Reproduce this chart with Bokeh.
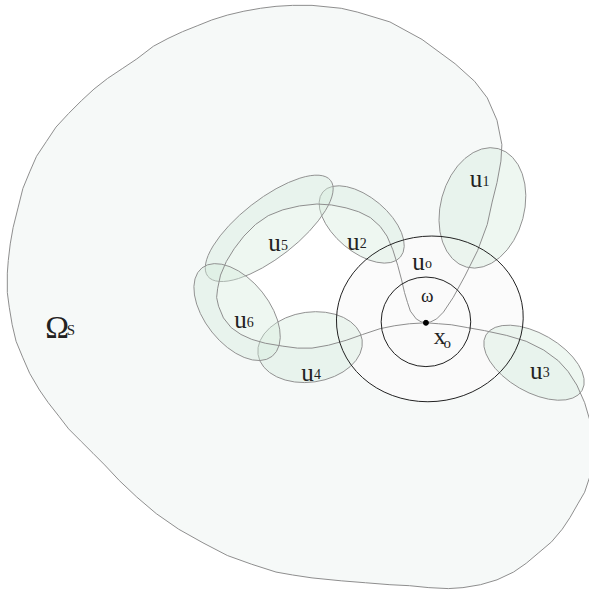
from bokeh.plotting import figure
from bokeh.models import Range1d
from bokeh.core.properties import value
from bokeh.embed import file_html
from bokeh.resources import INLINE
import math

# ---- data (pixel coordinates, y downwards) ----
# outer boundary of Omega_s: top -> right side -> down through u1 -> x0
outer1_x = [320, 350, 367, 400, 433, 467, 487, 500, 510, 515, 514, 510, 505, 500, 490, 477, 465, 455, 448, 442, 437]
outer1_y = [5, 8, 12, 22, 40, 65, 83, 100, 123, 148, 165, 187, 207, 230, 257, 283, 305, 320, 327, 330, 331]
# x0 -> right through u3 -> off the right edge -> bottom -> left -> top
outer2_x = [437, 450, 463, 480, 497, 520, 540, 558, 573, 583, 592, 600, 605, 608, 608, 605, 600, 593, 585, 577,
            566, 553, 540, 527, 510, 493, 475, 460, 440, 420, 400, 375, 350, 320, 300, 283, 258, 233, 208, 183,
            160, 140, 122, 107, 95, 83, 70, 60, 49, 40, 30, 23, 16, 12, 9, 7, 7, 8, 10, 13, 18, 23, 30, 37, 47,
            57, 70, 83, 96, 110, 125, 140, 157, 172, 187, 202, 217, 233, 250, 267, 283, 300, 320]
outer2_y = [331, 332, 333, 336, 339, 344, 350, 359, 370, 381, 395, 413, 430, 447, 470, 490, 505, 517, 531, 543,
            556, 567, 578, 587, 595, 600, 603, 604, 603, 601, 600, 598, 596, 593, 590, 587, 579, 570, 557, 543,
            527, 510, 493, 477, 465, 453, 440, 427, 413, 400, 383, 367, 350, 333, 315, 300, 280, 267, 250, 233,
            213, 193, 176, 160, 145, 130, 116, 103, 91, 80, 70, 60, 47, 39, 32, 26, 20, 15, 11, 8, 6, 5, 5]
# hole: x0 -> up through u2 -> u5 -> u6 -> u4 -> back to x0
hole_x = [437, 432, 427, 421, 418, 415, 412, 408, 403, 397, 390, 380, 368, 355, 340, 325, 307, 290, 275, 262,
          250, 240, 232, 226, 223, 222, 224, 229, 237, 247, 258, 272, 290, 305, 320, 337, 355, 372, 390, 405,
          420, 437]
hole_y = [331, 330, 327, 319, 310, 300, 287, 272, 256, 242, 232, 223, 217, 213, 210, 209, 211, 215, 221, 230,
          242, 255, 268, 282, 296, 305, 314, 326, 336, 343, 348, 352, 355, 357, 357, 354, 349, 343, 337, 334,
          332, 331]

# covering sets u1..u6: centre, major, minor, tilt (deg, counter-clockwise on screen)
u_cx = [495, 371, 548, 318, 276, 243]
u_cy = [213, 230, 372, 356, 234, 320]
u_w = [126, 104, 114, 108, 160, 116]
u_h = [86, 56, 60, 72, 60, 66]
u_ang = [75, -40, -30, 8, 38, -51.5]

# u0 and omega around x0
c_cx = [441, 437]
c_cy = [327, 330]
c_w = [192, 92]
c_h = [170, 92]
c_ang = [5, 0]

x0_pt = (437, 331)

# labels
u_names = ["1", "2", "3", "4", "5", "6", "o"]
u_lx = [482, 356, 544, 309, 275, 240, 423]
u_ly = [183, 247, 380, 382, 249, 328, 268]

# ---- figure ----
p = figure(width=589, height=592, output_backend="svg", toolbar_location=None,
           x_range=Range1d(0, 605), y_range=Range1d(608, 0), min_border=0)
p.axis.visible = False
p.grid.visible = False
p.outline_line_color = None
p.background_fill_color = "white"
p.border_fill_color = "white"

# Omega_s fill with hole
p.multi_polygons(xs=[[[outer1_x[:-1] + outer2_x, hole_x]]], ys=[[[outer1_y[:-1] + outer2_y, hole_y]]],
                 fill_color="#f6f9f8", line_color=None)

# light fill of u0
p.ellipse(x=[c_cx[0]], y=[c_cy[0]], width=[c_w[0]], height=[c_h[0]], angle=[math.radians(c_ang[0])],
          fill_color="#fafafa", fill_alpha=0.85, line_color=None)

# u1..u6
p.ellipse(x=u_cx, y=u_cy, width=u_w, height=u_h, angle=[math.radians(a) for a in u_ang],
          fill_color="#d5eadc", fill_alpha=0.4, line_color="#929292", line_width=1)

# boundary line
bx = outer1_x + hole_x[1:] + outer2_x[1:]
by = outer1_y + hole_y[1:] + outer2_y[1:]
p.line(bx, by, line_color="#8e8e8e", line_width=1)

# u0 and omega outlines
p.ellipse(x=c_cx, y=c_cy, width=c_w, height=c_h, angle=[math.radians(a) for a in c_ang],
          fill_color=None, line_color="#222222", line_width=1)

p.scatter([x0_pt[0]], [x0_pt[1]], size=5, color="black")

serif = value("Liberation Serif")
p.text(x=u_lx, y=u_ly, text=["u"] * len(u_lx), text_font=serif, text_font_size="25px",
       text_baseline="alphabetic", text_align="left", text_color="#222222")
p.text(x=[x + 13 for x in u_lx], y=[y + 2 for y in u_ly], text=u_names, text_font=serif,
       text_font_size="14px", text_baseline="alphabetic", text_align="left", text_color="#222222")

p.text(x=[432], y=[303], text=["ω"], text_font=serif, text_font_size="19px",
       text_baseline="alphabetic", text_align="left", text_color="#222222")
p.text(x=[445], y=[345], text=["x"], text_font=serif, text_font_size="24px",
       text_baseline="alphabetic", text_align="left", text_color="#222222")
p.text(x=[455], y=[352], text=["o"], text_font=serif, text_font_size="15px",
       text_baseline="alphabetic", text_align="left", text_color="#222222")
p.text(x=[46], y=[335], text=["Ω"], text_font=serif, text_font_size="32px",
       text_baseline="alphabetic", text_align="left", text_color="#222222")
p.text(x=[68], y=[338], text=["S"], text_font=serif, text_font_size="15px",
       text_baseline="alphabetic", text_align="left", text_color="#222222")

open("out.html", "w").write(file_html(p, INLINE))
